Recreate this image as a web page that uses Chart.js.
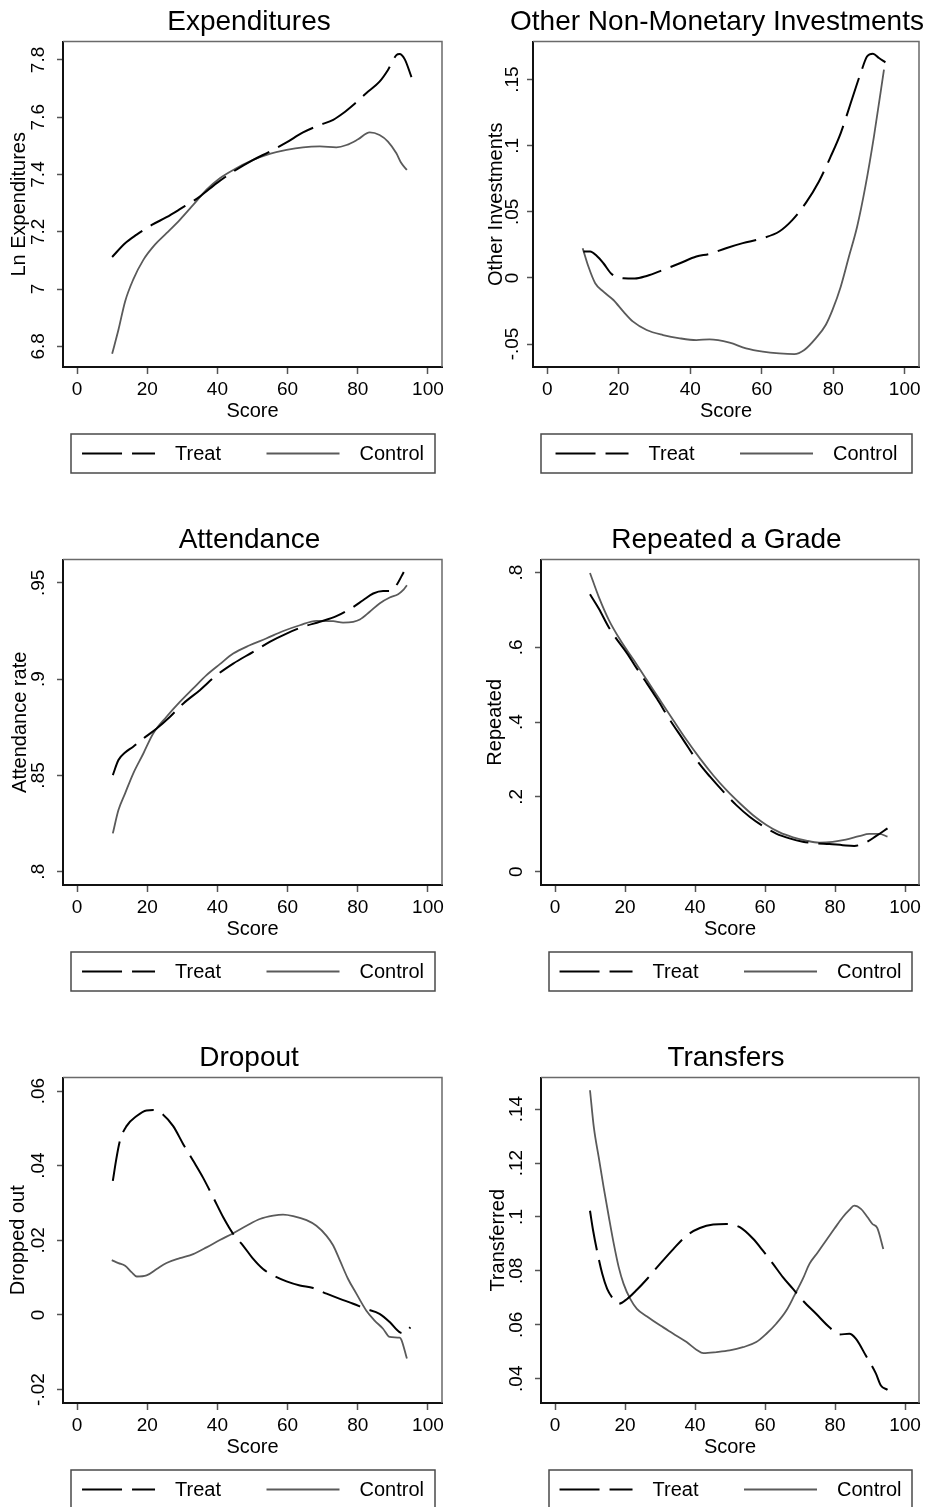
<!DOCTYPE html>
<html>
<head>
<meta charset="utf-8">
<title>Treat vs Control by Score</title>
<script src="https://cdn.jsdelivr.net/npm/chart.js@4.4.1/dist/chart.umd.min.js"></script>
<style>
  html, body { margin: 0; padding: 0; background: #fff; overflow: hidden; }
  #grid { position: relative; width: 940px; height: 1507px; overflow: hidden; }
  #grid canvas { position: absolute; }
</style>
</head>
<body>
<div id="grid">
  <canvas id="expChart" width="470" height="518" style="left:0;top:0"></canvas>
  <canvas id="otherChart" width="470" height="518" style="left:470px;top:0"></canvas>
  <canvas id="attChart" width="470" height="518" style="left:0;top:518px"></canvas>
  <canvas id="repChart" width="470" height="518" style="left:470px;top:518px"></canvas>
  <canvas id="dropChart" width="470" height="518" style="left:0;top:1036px"></canvas>
  <canvas id="trChart" width="470" height="518" style="left:470px;top:1036px"></canvas>
</div>
<script>
// Shared x axis
const scoreTicks = [0, 20, 40, 60, 80, 100];
const scoreRange = [-4, 104];

// Expenditures
const expTreatX = [10, 13.7, 17.0, 21.3, 25.5, 29.3, 35.0, 39.8, 44.5, 50.2, 54.9, 59.7, 64.4, 69.2, 73.0, 75.8, 78.7, 82.4, 86.2, 88.6, 91.0, 91.9, 93.4, 95.3];
const expTreatY = [7.112, 7.160, 7.190, 7.224, 7.251, 7.279, 7.323, 7.370, 7.410, 7.451, 7.480, 7.512, 7.547, 7.573, 7.591, 7.614, 7.643, 7.684, 7.724, 7.765, 7.817, 7.821, 7.802, 7.740];
const expControlX = [10, 11.8, 13.7, 16.0, 18.9, 22.2, 25.5, 29.3, 33.1, 36.9, 40.7, 44.5, 50.2, 54.9, 59.7, 64.4, 69.2, 73.9, 76.8, 80.1, 83.4, 86.2, 88.6, 91.0, 92.4, 94.0];
const expControlY = [6.774, 6.858, 6.957, 7.033, 7.102, 7.155, 7.195, 7.242, 7.294, 7.347, 7.387, 7.416, 7.451, 7.472, 7.486, 7.495, 7.498, 7.495, 7.503, 7.523, 7.547, 7.538, 7.515, 7.474, 7.440, 7.416];
const expTicks = [6.8, 7, 7.2, 7.4, 7.6, 7.8];
const expRange = [6.728, 7.864];

// Other non-monetary investments
const otherTreatX = [10.1, 12.0, 13.8, 15.7, 18.0, 21.3, 24.5, 27.8, 32.4, 37.1, 41.7, 45.4, 50.0, 54.7, 60.3, 64.9, 68.6, 72.3, 76.0, 79.3, 82.1, 84.9, 87.7, 89.5, 91.1, 92.8, 94.6];
const otherTreatY = [0.0199, 0.0199, 0.0167, 0.0111, 0.0030, -0.0003, -0.0005, 0.0015, 0.0061, 0.0111, 0.0162, 0.0182, 0.0225, 0.0263, 0.0301, 0.0351, 0.0439, 0.0566, 0.0730, 0.0919, 0.1096, 0.1323, 0.1551, 0.1677, 0.1697, 0.1664, 0.1631];
const otherControlX = [9.9, 11.5, 13.4, 15.7, 18.5, 21.3, 24.0, 27.8, 32.4, 37.1, 41.7, 45.4, 51.0, 55.6, 60.3, 64.9, 69.1, 71.9, 75.1, 77.9, 79.8, 82.1, 84.4, 86.7, 89.0, 91.4, 94.2];
const otherControlY = [0.0225, 0.0086, -0.0040, -0.0104, -0.0167, -0.0255, -0.0331, -0.0394, -0.0432, -0.0457, -0.0470, -0.0465, -0.0490, -0.0533, -0.0558, -0.0571, -0.0576, -0.0545, -0.0457, -0.0356, -0.0242, -0.0066, 0.0162, 0.0389, 0.0692, 0.1071, 0.1576];
const otherTicks = [-0.05, 0, 0.05, 0.1, 0.15];
const otherRange = [-0.0674, 0.1788];

// Attendance
const attTreatX = [10.2, 11.8, 13.7, 16.0, 18.9, 22.7, 26.5, 30.3, 35.0, 39.8, 44.5, 50.2, 54.9, 59.7, 64.4, 69.2, 73.9, 78.7, 81.5, 84.4, 87.2, 89.1, 91.0, 93.1];
const attTreatY = [0.8502, 0.8580, 0.8619, 0.8649, 0.8692, 0.8744, 0.8805, 0.8874, 0.8943, 0.9021, 0.9081, 0.9142, 0.9194, 0.9237, 0.9272, 0.9298, 0.9327, 0.9375, 0.9410, 0.9445, 0.9458, 0.9458, 0.9488, 0.9557];
const attControlX = [10.2, 11.8, 13.7, 16.0, 18.9, 21.7, 25.5, 29.3, 33.1, 36.9, 40.7, 44.5, 49.2, 53.9, 58.6, 63.5, 68.2, 73.0, 75.8, 78.7, 80.6, 83.4, 86.2, 89.1, 91.5, 92.9, 94.0];
const attControlY = [0.8199, 0.8320, 0.8407, 0.8510, 0.8614, 0.8718, 0.8805, 0.8882, 0.8952, 0.9021, 0.9078, 0.9133, 0.9176, 0.9211, 0.9249, 0.9280, 0.9303, 0.9301, 0.9294, 0.9298, 0.9310, 0.9350, 0.9393, 0.9424, 0.9441, 0.9462, 0.9488];
const attTicks = [0.8, 0.85, 0.9, 0.95];
const attRange = [0.7931, 0.9621];

// Repeated a grade
const repTreatX = [10.0, 12.5, 15.4, 17.3, 20.6, 23.4, 26.3, 29.1, 32.9, 36.7, 40.5, 44.3, 48.1, 51.8, 55.6, 59.4, 63.2, 67.0, 70.8, 74.6, 78.4, 82.2, 85.5, 88.8, 91.7, 95.0];
const repTreatY = [0.742, 0.704, 0.653, 0.626, 0.584, 0.543, 0.503, 0.463, 0.405, 0.352, 0.298, 0.254, 0.214, 0.178, 0.147, 0.122, 0.102, 0.089, 0.080, 0.076, 0.074, 0.071, 0.069, 0.078, 0.095, 0.116];
const repControlX = [10.0, 12.5, 15.4, 18.7, 22.5, 26.3, 30.0, 33.8, 37.6, 41.4, 45.2, 49.0, 52.8, 56.6, 60.4, 64.2, 68.0, 71.8, 75.5, 79.3, 83.1, 86.9, 89.8, 92.6, 95.0];
const repControlY = [0.799, 0.735, 0.673, 0.619, 0.566, 0.512, 0.459, 0.405, 0.352, 0.303, 0.258, 0.218, 0.183, 0.151, 0.125, 0.105, 0.092, 0.083, 0.078, 0.080, 0.086, 0.095, 0.101, 0.101, 0.094];
const repTicks = [0, 0.2, 0.4, 0.6, 0.8];
const repRange = [-0.0356, 0.8347];

// Dropout
const dropTreatX = [10.2, 11.1, 12.2, 14.1, 17.0, 19.8, 21.7, 24.6, 27.4, 30.3, 33.1, 35.9, 38.8, 41.7, 44.5, 47.3, 50.2, 53.0, 55.9, 59.7, 63.5, 67.3, 71.1, 74.9, 78.7, 82.4, 86.2, 89.1, 91.9, 93.4, 95.0];
const dropTreatY = [0.0359, 0.0413, 0.0466, 0.0506, 0.0533, 0.0548, 0.0549, 0.0536, 0.0506, 0.0457, 0.0413, 0.0368, 0.0315, 0.0261, 0.0217, 0.0186, 0.0150, 0.0123, 0.0106, 0.0090, 0.0079, 0.0072, 0.0057, 0.0043, 0.0030, 0.0016, 0.0003, -0.0019, -0.0046, -0.0049, -0.0033];
const dropControlX = [9.9, 11.8, 13.7, 15.6, 17.0, 19.8, 22.7, 25.5, 29.3, 33.1, 36.9, 40.7, 44.5, 48.3, 52.1, 55.9, 58.7, 61.6, 65.4, 68.2, 71.1, 73.0, 74.9, 77.2, 79.6, 82.4, 84.8, 87.2, 89.1, 91.9, 92.4, 94.0];
const dropControlY = [0.0147, 0.0139, 0.0132, 0.0114, 0.0103, 0.0106, 0.0123, 0.0139, 0.0152, 0.0163, 0.0181, 0.0201, 0.0219, 0.0239, 0.0257, 0.0266, 0.0269, 0.0265, 0.0254, 0.0239, 0.0212, 0.0186, 0.0146, 0.0097, 0.0057, 0.0012, -0.0015, -0.0037, -0.0059, -0.0061, -0.0066, -0.0117];
const dropTicks = [-0.02, 0, 0.02, 0.04, 0.06];
const dropRange = [-0.0236, 0.0636];

// Transfers
const trTreatX = [10.0, 10.9, 12.0, 13.5, 14.9, 16.3, 18.2, 20.6, 23.4, 26.3, 30.0, 33.8, 37.6, 41.4, 45.2, 49.0, 52.8, 56.6, 59.4, 62.3, 65.1, 68.0, 70.8, 74.6, 78.4, 81.2, 84.1, 86.0, 88.8, 91.7, 93.1, 95.0];
const trTreatY = [0.1023, 0.0949, 0.0875, 0.0789, 0.0733, 0.0702, 0.0678, 0.0696, 0.0730, 0.0770, 0.0826, 0.0881, 0.0931, 0.0959, 0.0972, 0.0974, 0.0962, 0.0919, 0.0875, 0.0826, 0.0777, 0.0733, 0.0690, 0.0641, 0.0591, 0.0564, 0.0567, 0.0548, 0.0486, 0.0419, 0.0375, 0.0359];
const trControlX = [10.0, 11.1, 12.5, 13.9, 15.4, 16.8, 18.2, 19.6, 21.5, 23.4, 26.3, 30.0, 33.8, 37.6, 40.5, 42.4, 46.2, 49.9, 53.7, 57.5, 60.4, 63.2, 66.1, 68.4, 70.8, 72.7, 75.1, 77.4, 79.8, 82.2, 84.1, 85.5, 87.4, 89.3, 90.7, 92.1, 93.8];
const trControlY = [0.1470, 0.1332, 0.1221, 0.1110, 0.0999, 0.0900, 0.0814, 0.0752, 0.0696, 0.0659, 0.0631, 0.0598, 0.0567, 0.0536, 0.0507, 0.0495, 0.0499, 0.0505, 0.0517, 0.0536, 0.0567, 0.0604, 0.0653, 0.0709, 0.0770, 0.0826, 0.0869, 0.0912, 0.0956, 0.0999, 0.1026, 0.1042, 0.1030, 0.0999, 0.0974, 0.0959, 0.0881];
const trTicks = [0.04, 0.06, 0.08, 0.1, 0.12, 0.14];
const trRange = [0.0310, 0.1517];

const FONT = '"Liberation Sans", Arial, Helvetica, sans-serif';
const CANVAS_W = 470;

Chart.defaults.font.family = FONT;
Chart.defaults.color = '#000';

// Panel layout (pixel positions inside each 470x518 canvas)
const panels = [
    { id: 'expChart', title: 'Expenditures', yTitle: 'Ln Expenditures',
      treat: [expTreatX, expTreatY], control: [expControlX, expControlY], ticks: expTicks, range: expRange,
      plotLeft: 63, plotRight: 442, titleCenter: 249, yTitleX: 19, labelGap: 24 },
    { id: 'otherChart', title: 'Other Non-Monetary Investments', yTitle: 'Other Investments',
      treat: [otherTreatX, otherTreatY], control: [otherControlX, otherControlY], ticks: otherTicks, range: otherRange,
      plotLeft: 63, plotRight: 449, titleCenter: 247, yTitleX: 26, labelGap: 20 },
    { id: 'attChart', title: 'Attendance', yTitle: 'Attendance rate',
      treat: [attTreatX, attTreatY], control: [attControlX, attControlY], ticks: attTicks, range: attRange,
      plotLeft: 63, plotRight: 442, titleCenter: 249.5, yTitleX: 20, labelGap: 24 },
    { id: 'repChart', title: 'Repeated a Grade', yTitle: 'Repeated',
      treat: [repTreatX, repTreatY], control: [repControlX, repControlY], ticks: repTicks, range: repRange,
      plotLeft: 71, plotRight: 449, titleCenter: 256.5, yTitleX: 25, labelGap: 24 },
    { id: 'dropChart', title: 'Dropout', yTitle: 'Dropped out',
      treat: [dropTreatX, dropTreatY], control: [dropControlX, dropControlY], ticks: dropTicks, range: dropRange,
      plotLeft: 63, plotRight: 442, titleCenter: 249, yTitleX: 18, labelGap: 24 },
    { id: 'trChart', title: 'Transfers', yTitle: 'Transferred',
      treat: [trTreatX, trTreatY], control: [trControlX, trControlY], ticks: trTicks, range: trRange,
      plotLeft: 71, plotRight: 449, titleCenter: 256, yTitleX: 28, labelGap: 24 }
];

// Stata style labels: drop the leading zero
function fmtTick(v) {
    return String(+v.toFixed(4)).replace(/^(-?)0\./, '$1.');
}

function pointsOf(xs, ys) {
    return xs.map((x, i) => ({ x: x, y: ys[i] }));
}

const measureCtx = document.createElement('canvas').getContext('2d');
function widestLabel(ticks, size) {
    measureCtx.font = size + 'px ' + FONT;
    return Math.max(...ticks.map(v => measureCtx.measureText(fmtTick(v)).width));
}

// Gray outline on the top and right of the plot region
const plotFrame = {
    id: 'plotFrame',
    beforeDatasetsDraw(chart) {
        const { ctx, chartArea: a } = chart;
        ctx.save();
        ctx.strokeStyle = '#6a6a6a';
        ctx.lineWidth = 1.5;
        ctx.beginPath();
        ctx.moveTo(a.left, a.top);
        ctx.lineTo(a.right, a.top);
        ctx.lineTo(a.right, a.bottom);
        ctx.stroke();
        ctx.restore();
    }
};

// Boxed legend under the axis, two equal columns
const stataLegend = {
    id: 'stataLegend',
    afterDraw(chart) {
        const { ctx, chartArea: a } = chart;
        const left = a.left + 8, right = a.right - 7, top = a.bottom + 67, h = 39;
        const sample = 73, textGap = 20, colGap = 27;
        ctx.save();
        ctx.strokeStyle = '#4a4a4a';
        ctx.lineWidth = 1.5;
        ctx.strokeRect(left, top, right - left, h);
        ctx.font = '20px ' + FONT;
        const sets = chart.data.datasets;
        const textW = Math.max(...sets.map(d => ctx.measureText(d.label).width));
        const colW = sample + textGap + textW;
        let x = (left + right) / 2 - (2 * colW + colGap) / 2;
        const cy = top + h / 2;
        sets.forEach(d => {
            ctx.beginPath();
            ctx.setLineDash(d.borderDash || []);
            ctx.strokeStyle = d.borderColor;
            ctx.lineWidth = d.borderWidth;
            ctx.moveTo(x, cy);
            ctx.lineTo(x + sample, cy);
            ctx.stroke();
            ctx.setLineDash([]);
            ctx.fillStyle = '#000';
            ctx.textBaseline = 'middle';
            ctx.textAlign = 'left';
            ctx.fillText(d.label, x + sample + textGap, cy + 1);
            x += colW + colGap;
        });
        ctx.restore();
    }
};

function makeChart(p) {
    // the title box spans 0 .. 2*titleCenter, so it is centred where the reference puts it
    const titleRight = 2 * p.titleCenter;
    const padRight = CANVAS_W - titleRight;
    const yTickLen = 6;
    const yTickPad = p.labelGap - yTickLen - widestLabel(p.ticks, 19) / 2;

    new Chart(document.getElementById(p.id), {
        type: 'line',
        data: {
            datasets: [{
                label: 'Treat',
                data: pointsOf(p.treat[0], p.treat[1]),
                borderColor: '#000',
                borderWidth: 2,
                borderDash: [40, 10],
                pointRadius: 0,
                cubicInterpolationMode: 'monotone',
                fill: false
            }, {
                label: 'Control',
                data: pointsOf(p.control[0], p.control[1]),
                borderColor: '#5a5a5a',
                borderWidth: 1.8,
                pointRadius: 0,
                cubicInterpolationMode: 'monotone',
                fill: false
            }]
        },
        options: {
            responsive: false,
            animation: false,
            layout: { padding: { left: 0, right: padRight, top: 0, bottom: 95 } },
            plugins: {
                legend: { display: false },
                tooltip: { enabled: false },
                title: {
                    display: true,
                    text: p.title,
                    color: '#000',
                    font: { size: 28, weight: 'normal' },
                    padding: { top: 5, bottom: 3 }
                }
            },
            scales: {
                x: {
                    type: 'linear',
                    min: scoreRange[0],
                    max: scoreRange[1],
                    afterBuildTicks: s => { s.ticks = scoreTicks.map(v => ({ value: v })); },
                    afterFit: s => { s.height = 56; },
                    ticks: { font: { size: 19 }, padding: 4, autoSkip: false, maxRotation: 0, callback: v => fmtTick(v) },
                    grid: { drawOnChartArea: false, drawTicks: true, tickLength: 7, tickColor: '#555', tickWidth: 1.5 },
                    border: { display: true, color: '#111', width: 2 },
                    title: { display: true, text: 'Score', font: { size: 20 }, padding: 0 }
                },
                y: {
                    type: 'linear',
                    position: 'left',
                    min: p.range[0],
                    max: p.range[1],
                    afterBuildTicks: s => { s.ticks = p.ticks.map(v => ({ value: v })); },
                    afterFit: s => { s.width = p.plotLeft; },
                    ticks: {
                        font: { size: 19 }, autoSkip: false,
                        minRotation: 90, maxRotation: 90, crossAlign: 'center',
                        padding: yTickPad, callback: v => fmtTick(v)
                    },
                    grid: { drawOnChartArea: false, drawTicks: true, tickLength: yTickLen, tickColor: '#555', tickWidth: 1.5 },
                    border: { display: true, color: '#111', width: 2 },
                    title: {
                        display: true, text: p.yTitle, font: { size: 20 },
                        padding: { top: p.yTitleX - 12, bottom: 0 }
                    }
                },
                yPad: {
                    type: 'linear',
                    position: 'right',
                    min: 0,
                    max: 1,
                    afterFit: s => { s.width = titleRight - p.plotRight; },
                    ticks: { display: false },
                    grid: { display: false, drawTicks: false },
                    border: { display: false }
                }
            }
        },
        plugins: [plotFrame, stataLegend]
    });
}

panels.forEach(makeChart);
</script>
</body>
</html>
